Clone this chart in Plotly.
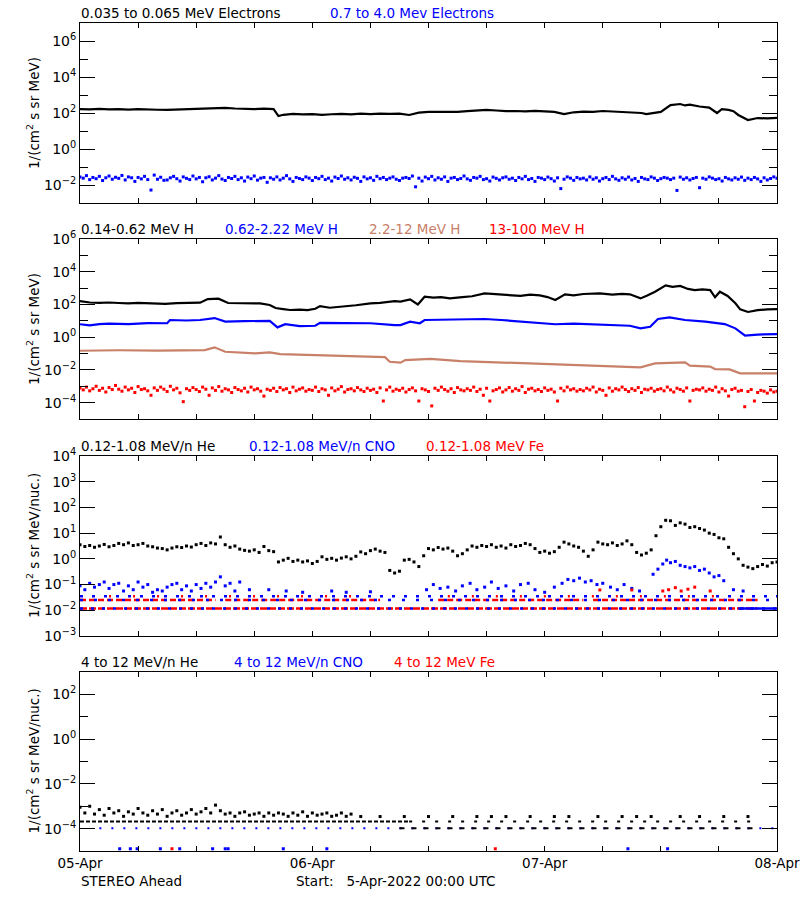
import numpy as np
import plotly.graph_objects as go

FONT = "DejaVu Sans"
BLACK = "black"
BLUE = "#0000ff"
RED = "#ff0000"
BROWN = "rgb(200,128,104)"

# ---------------- time axis (hours since 2022-04-05 00:00 UTC) ----------------
DAY_TICK_HOURS = [0, 24, 48, 72]
DAY_TICK_LABELS = ["05-Apr", "06-Apr", "07-Apr", "08-Apr"]
SIX_HOUR_TICKS = [6, 12, 18, 30, 36, 42, 54, 60, 66]

# ---------------- Panel 1: electrons (log10 flux) ----------------
e_low_hours = [0, 1, 2, 3, 4, 5, 6, 7, 8, 9, 10, 11, 12, 13, 14, 15, 16, 17, 18, 19, 20, 20.5, 21, 22,
               23, 24, 25, 26, 27, 28, 29, 30, 31, 32, 33, 34, 35, 36, 37, 38, 39, 40, 41, 42, 43, 44,
               45, 46, 47, 48, 49, 50, 51, 52, 53, 54, 55, 56, 57, 58, 58.5, 59, 60, 61, 62, 62.5, 63,
               64, 65, 65.8, 66.3, 67, 67.5, 68, 69, 70, 71, 72]
e_low_log = [2.22, 2.20, 2.23, 2.20, 2.22, 2.19, 2.21, 2.18, 2.18, 2.17, 2.19, 2.17, 2.20, 2.24, 2.26,
             2.28, 2.25, 2.23, 2.22, 2.24, 2.22, 1.83, 1.90, 1.95, 1.92, 1.94, 1.90, 1.93, 1.95, 1.92,
             1.96, 1.94, 1.97, 1.95, 1.96, 1.89, 2.02, 2.06, 2.05, 2.08, 2.06, 2.10, 2.12, 2.17, 2.14,
             2.10, 2.11, 2.09, 2.12, 2.11, 2.06, 1.94, 2.04, 2.08, 2.06, 2.11, 2.09, 2.07, 2.06, 2.00,
             1.94, 1.98, 2.06, 2.44, 2.50, 2.42, 2.46, 2.36, 2.30, 2.00, 2.22, 2.17, 2.10, 1.89, 1.61,
             1.72, 1.70, 1.73]

e_high_step_h = 1 / 3  # 20-minute samples
e_high_log = [
    -1.55, -1.62, -1.48, -1.70, -1.58, -1.65, -1.52, -1.75, -1.60, -1.50, -1.68, -1.57,
    -1.63, -1.47, -1.72, -1.55, -1.60, -1.80, -1.58, -1.66, -1.52, -1.70, -2.28, -1.45,
    -1.68, -1.57, -1.74, -1.72, -1.60, -1.52, -1.65, -1.78, -1.55, -1.63, -1.70, -1.50,
    -1.66, -1.58, -1.82, -1.60, -1.54, -1.72, -1.62, -1.48, -1.67, -1.75, -1.58, -1.64,
    -1.52, -1.70, -1.60, -1.78, -1.56, -1.65, -1.50, -1.73, -1.62, -1.58, -1.85, -1.60,
    -1.68, -1.55, -1.72, -1.62, -1.48, -1.66, -1.80, -1.58, -1.64, -1.70, -1.55, -1.62,
    -1.75, -1.58, -1.65, -1.52, -1.70, -1.62, -1.78, -1.56, -1.64, -1.50, -1.68, -1.60,
    -1.72, -1.57, -1.63, -1.80, -1.55, -1.66, -1.60, -1.74, -1.52, -1.65, -1.58, -1.70,
    -1.62, -1.55, -1.68, -1.75, -1.62, -1.58, -1.64, -1.50, -2.10, -1.62, -1.78, -1.56,
    -1.65, -1.52, -1.72, -1.60, -1.68, -1.55, -1.80, -1.62, -1.58, -1.70, -1.64, -1.50,
    -1.66, -1.74, -1.58, -1.62, -1.52, -1.70, -1.65, -1.78, -1.56, -1.63, -1.72, -1.60,
    -1.55, -1.68, -1.62, -1.75, -1.58, -1.66, -1.52, -1.70, -1.64, -1.80, -1.58, -1.62,
    -1.70, -1.56, -1.65, -1.78, -1.60, -2.20, -1.68, -1.55, -1.62, -1.74, -1.58, -1.66,
    -1.62, -1.72, -1.55, -1.68, -1.60, -1.78, -1.65, -1.58, -1.70, -1.52, -1.66, -1.74,
    -1.60, -1.68, -1.56, -1.72, -1.64, -1.80, -1.58, -1.66, -1.70, -1.55, -1.62, -1.75,
    -1.65, -1.58, -1.62, -1.70, -1.62, -2.30, -1.56, -1.68, -1.60, -1.72, -1.64, -1.58,
    -2.15, -1.62, -1.68, -1.55, -1.62, -1.70, -1.65, -1.78, -1.58, -1.66, -1.72, -1.60,
    -1.68, -1.56, -1.74, -1.62, -1.70, -1.58, -1.66, -1.80, -1.60, -1.72, -1.64, -1.55,
    -1.62]

# ---------------- Panel 2: protons (log10 flux) ----------------
h_low_hours = [0, 1, 2, 3, 4, 5, 6, 7, 8, 8.8, 10, 11, 12.4, 13.2, 14.3, 15.3, 16.5, 17.5, 18.6, 19.6,
               20.2, 21, 21.7, 22.7, 23.5, 24.3, 24.8, 25.8, 26.5, 27.4, 28.5, 30, 31, 32.5, 33.1,
               34.1, 34.9, 35.6, 36.5, 37.3, 38.2, 39.5, 40.5, 41.8, 43, 44, 45.5, 46.5, 47.5, 48.3,
               49.1, 50.1, 51, 52, 53.7, 55, 56, 56.8, 57.9, 58.6, 59.4, 60.5, 61.2, 62, 62.8, 63.5,
               64.3, 65.1, 65.6, 66.1, 66.9, 67.7, 68.2, 69, 70, 71, 72]
h_low_log = [2.20, 2.12, 2.10, 2.12, 2.09, 2.07, 2.10, 2.06, 2.05, 2.03, 2.08, 2.10, 2.11, 2.33, 2.35,
             2.09, 2.08, 2.10, 2.06, 1.97, 1.78, 1.72, 1.66, 1.69, 1.66, 1.74, 1.90, 1.80, 1.84, 1.86,
             1.95, 2.07, 2.10, 2.20, 2.17, 2.31, 2.00, 2.47, 2.42, 2.45, 2.37, 2.45, 2.50, 2.68, 2.62,
             2.58, 2.52, 2.60, 2.55, 2.45, 2.27, 2.62, 2.56, 2.64, 2.68, 2.60, 2.65, 2.62, 2.37, 2.55,
             2.78, 3.17, 3.08, 3.13, 2.95, 2.88, 2.92, 2.88, 2.44, 2.78, 2.52, 2.07, 1.70, 1.54, 1.65,
             1.70, 1.72]

h_mid_hours = [0, 1, 2, 3, 5, 7, 9.0, 9.3, 11, 12.4, 13.9, 15, 17, 19.6, 20.4, 21.2, 22.7, 24.3, 24.8,
               27, 30, 32.5, 33.1, 34.1, 35.1, 35.6, 38, 41.8, 43.5, 45.5, 47, 49.1, 51, 52.7, 55,
               56.8, 57.9, 58.9, 59.7, 60.9, 62.5, 64.6, 66.6, 67.7, 68.7, 70, 72]
h_mid_log = [0.79, 0.72, 0.80, 0.83, 0.80, 0.86, 0.85, 1.05, 1.02, 1.05, 1.17, 0.95, 0.98, 1.00, 0.60,
             0.79, 0.68, 0.70, 0.88, 0.86, 0.85, 0.74, 0.74, 0.95, 0.85, 1.05, 1.08, 1.11, 1.05, 0.95,
             0.92, 0.79, 0.83, 0.79, 0.76, 0.70, 0.54, 0.64, 1.11, 1.21, 1.05, 0.95, 0.80, 0.54, 0.09,
             0.16, 0.19]

h_hi_hours = [0, 4, 8, 12.9, 13.9, 15, 18.1, 19.6, 20.7, 24.8, 30, 31.5, 32, 33.1, 33.6, 36.2, 39.3,
              42, 45.5, 49.6, 53.7, 57.9, 59.4, 62.5, 63, 65.1, 65.6, 67.1, 68.2, 72]
h_hi_log = [-0.83, -0.80, -0.82, -0.79, -0.62, -0.89, -0.99, -0.93, -1.03, -1.09, -1.19, -1.22, -1.50,
            -1.56, -1.40, -1.33, -1.46, -1.52, -1.60, -1.66, -1.76, -1.84, -1.60, -1.54, -1.74, -1.80,
            -1.95, -1.97, -2.21, -2.21]

h_top_step_h = 1 / 3  # 20-minute samples
h_top_log = [
    -3.10, -3.22, -3.05, -3.28, -3.15, -3.00, -3.25, -3.12, -3.35, -3.08, -3.20, -2.95,
    -3.18, -3.30, -3.05, -3.22, -3.12, -3.38, -3.02, -3.20, -3.15, -3.28, -3.55, -3.10,
    -3.25, -3.05, -3.18, -3.32, -3.00, -3.22, -3.12, -3.40, -3.94, -3.15, -3.25, -3.08,
    -3.20, -3.32, -3.05, -3.18, -3.55, -3.10, -3.25, -3.02, -3.30, -3.15, -3.22, -3.38,
    -3.08, -3.20, -3.28, -3.12, -3.35, -3.05, -3.22, -3.15, -3.30, -3.60, -3.18, -3.25,
    -3.12, -3.32, -3.08, -3.22, -3.15, -3.38, -3.05, -3.28, -3.18, -3.10, -3.30, -3.20,
    -3.25, -3.05, -3.32, -3.15, -3.22, -3.55, -3.10, -3.28, -3.18, -3.02, -3.35, -3.20,
    -3.15, -3.28, -3.08, -3.22, -3.32, -3.12, -3.25, -3.18, -3.38, -3.10, -3.90, -3.22,
    -3.05, -3.30, -3.18, -3.25, -3.12, -3.35, -3.20, -3.10, -3.28, -3.90, -3.15, -3.22,
    -3.32, -4.20, -3.12, -3.25, -3.05, -3.20, -3.30, -3.15, -3.38, -3.08, -3.22, -3.28,
    -3.15, -3.25, -3.05, -3.32, -3.18, -3.55, -3.12, -3.90, -3.28, -3.20, -3.10, -3.35,
    -3.22, -3.08, -3.30, -3.15, -3.25, -3.02, -3.38, -3.18, -3.12, -3.28, -3.20, -3.32,
    -3.10, -3.25, -3.18, -3.35, -3.90, -3.12, -3.28, -3.05, -3.22, -3.15, -3.30, -3.20,
    -3.28, -3.12, -3.22, -3.05, -3.35, -3.18, -3.25, -3.55, -3.10, -3.30, -3.15, -3.22,
    -3.05, -3.20, -3.32, -3.15, -3.25, -3.08, -3.38, -3.18, -3.22, -3.12, -3.30, -3.20,
    -3.15, -3.28, -3.05, -3.22, -3.35, -3.12, -3.20, -3.30, -3.10, -3.90, -3.25, -3.18,
    -3.22, -3.10, -3.30, -3.18, -3.25, -3.05, -3.35, -3.15, -3.28, -3.60, -3.20, -3.12,
    -3.30, -3.25, -4.25, -3.32, -3.20, -3.90, -3.38, -3.25, -3.30, -3.42, -3.22, -3.35,
    -3.30]

# ---------------- Panel 3: 0.12-1.08 MeV/n heavy ions (log10 flux) ----------------
he_step_h = 0.5  # 30-minute samples
he_log = [
    0.55, 0.48, 0.52, 0.45, 0.50, 0.56, 0.47, 0.52, 0.60, 0.55,
    0.62, 0.52, 0.55, 0.60, 0.50, 0.47, 0.42, 0.40, 0.35, 0.42,
    0.47, 0.44, 0.50, 0.46, 0.55, 0.60, 0.52, 0.62, 0.58, 0.85,
    0.55, 0.45, 0.50, 0.38, 0.33, 0.30, 0.35, 0.25, 0.48, 0.32,
    0.28, -0.12, -0.05, 0.02, -0.10, -0.05, -0.12, -0.08, -0.18, -0.10,
    0.08, -0.02, 0.02, -0.05, 0.03, 0.08, 0.00, 0.10, 0.27, 0.20,
    0.32, 0.38, 0.30, 0.25, -0.45, -0.55, -0.48, -0.05, -0.02, -0.12,
    -0.30, 0.12, 0.40, 0.35, 0.44, 0.38, 0.42, 0.30, 0.12, 0.20,
    0.35, 0.50, 0.45, 0.52, 0.48, 0.55, 0.45, 0.50, 0.42, 0.55,
    0.48, 0.52, 0.60, 0.55, 0.40, 0.25, 0.30, 0.22, 0.28, 0.45,
    0.65, 0.58, 0.50, 0.45, 0.30, 0.10, 0.35, 0.65, 0.58, 0.55,
    0.62, 0.52, 0.58, 0.70, 0.55, 0.25, 0.15, 0.22, 0.35, 0.90,
    1.25, 1.50, 1.48, 1.30, 1.40, 1.35, 1.22, 1.25, 1.18, 1.12,
    1.00, 0.95, 0.82, 0.78, 0.45, 0.20, 0.00, -0.25, -0.32, -0.38,
    -0.30, -0.22, -0.28, -0.15, -0.12]

cno_hours = [
    0, 0.5, 1, 1.5, 2, 2.5, 3, 3.5, 4, 4.5,
    5, 5.5, 6, 6.5, 7, 7.5, 8, 8.5, 9, 9.5,
    10, 10.5, 11, 11.5, 12, 12.5, 13, 13.5, 14, 14.5,
    15, 15.5, 16, 16.5, 17.5, 19.5, 21.3, 23, 26, 27.5,
    30, 35.8, 36.5, 37.2, 38, 38.8, 39.5, 40.3, 41, 41.8,
    42.5, 43.2, 44, 44.8, 45.5, 46.3, 47, 48, 49, 49.8,
    50.4, 51, 51.6, 52.2, 52.8, 53.4, 54, 54.8, 55.5, 56.2,
    57, 57.8, 59.2, 59.7, 60.2, 60.6, 61, 61.5, 62, 62.5,
    63, 63.5, 64, 64.5, 65, 65.5, 66, 66.5, 67.5, 68.5]
cno_log = [
    -1.05, -1.20, -0.95, -1.10, -1.00, -0.90, -1.15, -1.00, -0.95, -1.25,
    -1.05, -1.20, -0.90, -1.10, -1.00, -1.30, -1.20, -1.25, -1.10, -1.00,
    -0.95, -1.20, -1.05, -1.25, -1.00, -1.15, -0.95, -1.10, -0.90, -0.70,
    -1.05, -0.95, -1.25, -0.90, -1.20, -1.20, -1.25, -1.30, -1.25, -1.30,
    -1.28, -1.20, -1.00, -1.15, -1.10, -1.25, -1.05, -0.95, -1.20, -1.10,
    -0.90, -1.15, -1.05, -1.25, -1.00, -0.95, -1.20, -1.30, -1.10, -0.95,
    -0.80, -0.85, -0.75, -0.90, -0.85, -1.00, -0.95, -1.10, -1.20, -1.00,
    -1.15, -1.25, -0.60, -0.40, -0.20, -0.05, -0.15, -0.10, -0.25, -0.30,
    -0.35, -0.30, -0.45, -0.40, -0.55, -0.70, -0.65, -0.85, -1.20, -1.25]

fe_spike_hours = [53.7, 57.0, 60.2, 60.8, 61.5, 62.1, 62.8, 63.5, 65.1]
fe_spike_log = [-1.21, -1.21, -1.25, -1.20, -1.12, -1.25, -1.18, -1.10, -1.25]

# quantised count levels (log10 flux) and the hour spans where they appear
q3_levels = [-1.45, -1.60, -1.93]
cno_q3_spans = [[[0, 72]], [[0, 72]], [[0, 72]]]
fe_q3_spans = [[[3, 30], [38, 66]], [[0, 14], [15, 31], [37, 52], [53, 70]], [[0, 70]]]
cno_q3_solid_spans = [[], [], [[68, 72]]]

# ---------------- Panel 4: 4-12 MeV/n heavy ions (log10 flux) ----------------
he4_step_h = 0.5
he4_log = [
    -3.05, -3.30, -3.00, -3.35, -3.15, -3.40, -3.10, -3.30, -3.20, -3.45,
    -3.25, -3.35, -3.10, -3.30, -3.40, -3.20, -3.35, -3.15, -3.45, -3.30,
    -3.20, -3.40, -3.30, -3.15, -3.35, -3.25, -3.10, -3.30, -2.95, -3.20,
    -3.35, -3.30, -3.45, -3.30, -3.25, -3.40, -3.35, -3.30, -3.45, -3.30,
    -3.40, -3.30, -3.35, -3.45, -3.30, -3.40, -3.25, -3.45, -3.30, -3.40,
    -3.35, -3.30, -3.45, -3.40, -3.30, -3.45, -3.35]
he4_sparse_hours = [29, 31, 33.5, 36, 38.5, 41, 42.5, 44, 46.5, 49, 50.5, 53.5, 56, 57.5, 59, 62, 64,
                    66.5, 69]
he4_sparse_level = -3.46
he4_row_level = -3.68
he4_row_dense_spans = [[0, 34]]
he4_row_sparse_spans = [[34, 70]]
one_count_level = -3.98
he4_one_spans = [[33, 70]]
cno4_one_spans = [[2, 72]]
floor_level = -4.90
cno4_floor_hours = [4.1, 5.2, 5.9, 8.3, 10.3, 13.7, 15.0, 15.3, 21.0, 25.5, 56.6, 60.7]
fe4_floor_hours = [9.5, 42.9]

# ---------------- layout geometry ----------------
X_DOM = [80 / 800, 777 / 800]
PANEL_PX = [(23, 203), (239, 419), (456, 636), (672, 851)]
Y_RANGES = [(-3, 7), (-5, 6), (-3, 4), (-5, 3)]
Y_MAJOR = [[-2, 0, 2, 4, 6], [-4, -2, 0, 2, 4, 6], [-3, -2, -1, 0, 1, 2, 3, 4], [-4, -2, 0, 2]]
Y_MINOR = [[-1, 1, 3, 5], [-3, -1, 1, 3, 5], [], [-3, -1, 1]]
TXT = 13.5


def pw(v):
    return [10.0 ** x for x in v]


def regular_hours(n, step):
    return list(np.arange(n) * step)


def spans_xy(spans, level):
    xs, ys = [], []
    for a, b in spans:
        xs += [a, b, None]
        ys += [10.0 ** level, 10.0 ** level, None]
    return xs, ys


fig = go.Figure()


def line(ax, x, logv, color, width=2.2):
    fig.add_trace(go.Scatter(x=x, y=pw(logv), mode="lines", line=dict(color=color, width=width),
                             xaxis=ax[0], yaxis=ax[1], showlegend=False, hoverinfo="skip"))


def dots(ax, x, logv, color, size=3):
    fig.add_trace(go.Scatter(x=x, y=pw(logv), mode="markers",
                             marker=dict(color=color, size=size, symbol="square", line=dict(width=0)),
                             xaxis=ax[0], yaxis=ax[1], showlegend=False, hoverinfo="skip"))


def row(ax, spans, level, color, dash, width=2.5):
    if not spans:
        return
    xs, ys = spans_xy(spans, level)
    fig.add_trace(go.Scatter(x=xs, y=ys, mode="lines", line=dict(color=color, width=width, dash=dash),
                             xaxis=ax[0], yaxis=ax[1], showlegend=False, hoverinfo="skip"))


A1, A2, A3, A4 = ("x", "y"), ("x2", "y2"), ("x3", "y3"), ("x4", "y4")

# panel 1
line(A1, e_low_hours, e_low_log, BLACK)
dots(A1, regular_hours(len(e_high_log), e_high_step_h), e_high_log, BLUE)

# panel 2
line(A2, h_low_hours, h_low_log, BLACK)
line(A2, h_mid_hours, h_mid_log, BLUE)
line(A2, h_hi_hours, h_hi_log, BROWN)
dots(A2, regular_hours(len(h_top_log), h_top_step_h), h_top_log, RED)

# panel 3
row(A3, fe_q3_spans[0], q3_levels[0], RED, "2px,22px")
row(A3, cno_q3_spans[0], q3_levels[0], BLUE, "3px,9px")
row(A3, fe_q3_spans[1], q3_levels[1], RED, "6px,3px")
row(A3, cno_q3_spans[1], q3_levels[1], BLUE, "3px,11px")
row(A3, fe_q3_spans[2], q3_levels[2], RED, "7px,2px")
row(A3, cno_q3_spans[2], q3_levels[2], BLUE, "3px,8px")
row(A3, cno_q3_solid_spans[2], q3_levels[2], BLUE, "solid")
dots(A3, cno_hours, cno_log, BLUE)
dots(A3, fe_spike_hours, fe_spike_log, RED)
dots(A3, regular_hours(len(he_log), he_step_h), he_log, BLACK)

# panel 4
row(A4, cno4_one_spans, one_count_level, BLUE, "2px,10px", width=2)
row(A4, he4_one_spans, one_count_level, BLACK, "5px,7px", width=2)
row(A4, he4_row_dense_spans, he4_row_level, BLACK, "4px,2px", width=2)
row(A4, he4_row_sparse_spans, he4_row_level, BLACK, "3px,10px", width=2)
dots(A4, he4_sparse_hours, [he4_sparse_level] * len(he4_sparse_hours), BLACK)
dots(A4, regular_hours(len(he4_log), he4_step_h), he4_log, BLACK)
dots(A4, cno4_floor_hours, [floor_level] * len(cno4_floor_hours), BLUE)
dots(A4, fe4_floor_hours, [floor_level] * len(fe4_floor_hours), RED)

# ---------------- axes ----------------
layout = dict(width=800, height=900, margin=dict(l=0, r=0, t=0, b=0, autoexpand=False),
              paper_bgcolor="white", plot_bgcolor="white", showlegend=False,
              font=dict(family=FONT, size=TXT, color="black"))


def exp_label(k):
    s = str(k).replace("-", "\u2212")
    return f"10<sup>{s}</sup>"


for i in range(4):
    top, bot = PANEL_PX[i]
    ydom = [1 - bot / 900, 1 - top / 900]
    sx = "" if i == 0 else str(i + 1)
    is_bottom = i == 3
    layout["xaxis" + sx] = dict(
        domain=X_DOM, range=[0, 72], anchor="y" + sx, automargin=False,
        tickvals=DAY_TICK_HOURS, ticktext=DAY_TICK_LABELS, ticklabeloverflow="allow",
        showticklabels=is_bottom, ticks="inside", ticklen=5, tickwidth=1, tickcolor="black",
        showline=True, linecolor="black", linewidth=1, mirror="ticks", showgrid=False,
        zeroline=False, tickfont=dict(family=FONT, size=TXT, color="black"),
        minor=dict(tickvals=SIX_HOUR_TICKS, ticks="inside", ticklen=5, tickwidth=1,
                   tickcolor="black", showgrid=False))
    layout["yaxis" + sx] = dict(
        domain=ydom, type="log", range=list(Y_RANGES[i]), anchor="x" + sx, automargin=False,
        tickvals=pw(Y_MAJOR[i]), ticktext=[exp_label(k) for k in Y_MAJOR[i]],
        ticks="inside", ticklen=15, tickwidth=1, tickcolor="black",
        showline=True, linecolor="black", linewidth=1, mirror="ticks", showgrid=False,
        zeroline=False, tickfont=dict(family=FONT, size=14, color="black"),
        minor=dict(tickvals=pw(Y_MINOR[i]), ticks="inside", ticklen=8, tickwidth=1,
                   tickcolor="black", showgrid=False))

# ---------------- text ----------------
titles = [
    [(80, 13, "0.035 to 0.065 MeV Electrons", BLACK), (329, 13, "0.7 to 4.0 Mev Electrons", BLUE)],
    [(80, 229, "0.14-0.62 MeV H", BLACK), (224, 229, "0.62-2.22 MeV H", BLUE),
     (368, 229, "2.2-12 MeV H", BROWN), (488, 229, "13-100 MeV H", RED)],
    [(80, 446, "0.12-1.08 MeV/n He", BLACK), (248, 446, "0.12-1.08 MeV/n CNO", BLUE),
     (425, 446, "0.12-1.08 MeV Fe", RED)],
    [(80, 662, "4 to 12 MeV/n He", BLACK), (233, 662, "4 to 12 MeV/n CNO", BLUE),
     (393, 662, "4 to 12 MeV Fe", RED)],
]
y_titles = ["1/(cm<sup>2</sup> s sr MeV)", "1/(cm<sup>2</sup> s sr MeV)",
            "1/(cm<sup>2</sup> s sr MeV/nuc.)", "1/(cm<sup>2</sup> s sr MeV/nuc.)"]

ann = []
for group in titles:
    for x, y, t, c in group:
        ann.append(dict(x=x / 800, y=1 - y / 900, xref="paper", yref="paper", text=t,
                        showarrow=False, xanchor="left", yanchor="middle", borderpad=0,
                        font=dict(family=FONT, size=TXT, color=c)))
for i, t in enumerate(y_titles):
    top, bot = PANEL_PX[i]
    ann.append(dict(x=33 / 800, y=1 - (top + bot) / 2 / 900, xref="paper", yref="paper", text=t,
                    showarrow=False, textangle=-90, xanchor="center", yanchor="middle",
                    font=dict(family=FONT, size=TXT, color="black")))
ann.append(dict(x=80 / 800, y=1 - 881 / 900, xref="paper", yref="paper", text="STEREO Ahead",
                showarrow=False, xanchor="left", yanchor="middle", borderpad=0,
                font=dict(family=FONT, size=TXT, color="black")))
ann.append(dict(x=295 / 800, y=1 - 881 / 900, xref="paper", yref="paper",
                text="Start:\u00a0\u00a0\u00a05-Apr-2022 00:00 UTC", showarrow=False, xanchor="left",
                yanchor="middle", borderpad=0, font=dict(family=FONT, size=TXT, color="black")))
layout["annotations"] = ann

fig.update_layout(**layout)
fig.write_html("out.html", config={"displayModeBar": False},
               post_script="document.body.style.margin='0';document.body.style.overflow='hidden';")
